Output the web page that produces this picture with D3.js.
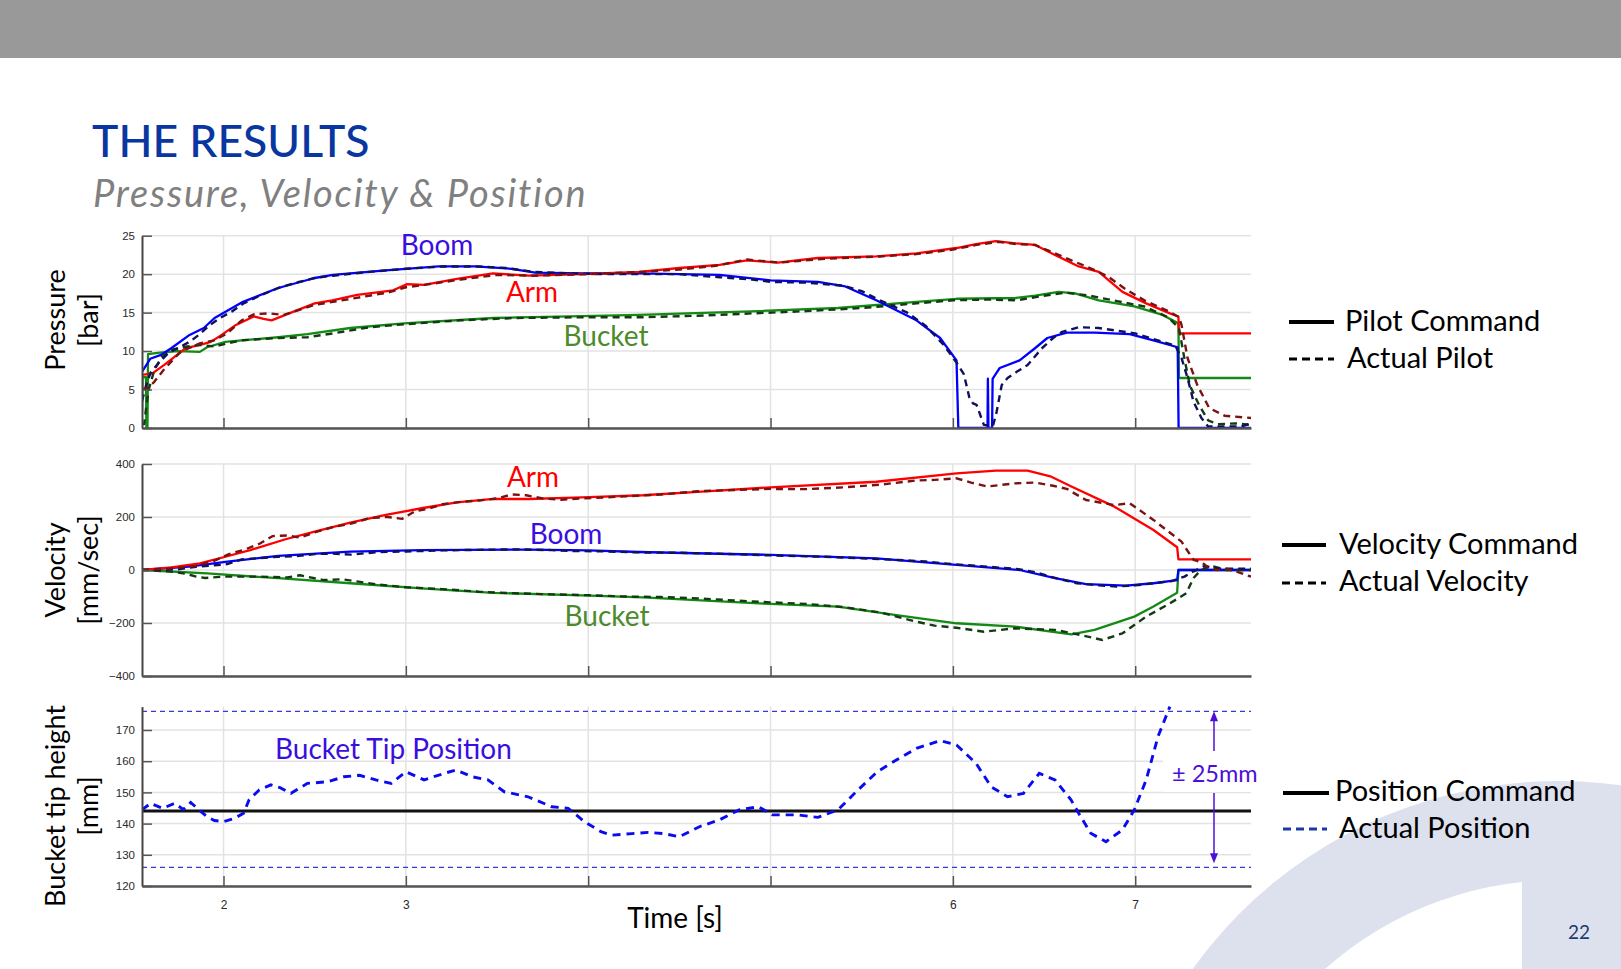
<!DOCTYPE html>
<html><head><meta charset="utf-8">
<script src="https://cdn.jsdelivr.net/npm/d3@7"></script>
<style>body{margin:0;background:#fff;overflow:hidden}svg{display:block}</style>
</head><body>
<svg id="c" width="1621" height="969"></svg>
<script>
// ---------------- DATA ----------------
const timeDomain = [1.553, 7.635];
const timeTicks = [2, 3, 4, 5, 6, 7];
const timeTickLabels = ["2", "3", "", "", "6", "7"];
const pressureTicks = [0, 5, 10, 15, 20, 25];
const velocityTicks = [-400, -200, 0, 200, 400];
const positionTicks = [120, 130, 140, 150, 160, 170];
const positionCommand = 144;
const positionBand = [126, 176];

const pressureBoomCmd = [[1.553,7.3],[1.598,9.0],[1.657,9.5],[1.715,10.4],[1.814,12.1],[1.892,13.0],[1.951,14.3],[2.107,16.4],[2.30,18.2],[2.50,19.5],[2.60,19.9],[2.89,20.5],[3.18,21.0],[3.38,21.0],[3.58,20.7],[3.71,20.2],[3.97,20.1],[4.28,20.1],[4.72,19.9],[5.0,19.2],[5.26,19.0],[5.41,18.4],[5.58,16.6],[5.80,14.0],[5.93,11.7],[6.02,8.8],[6.03,0],[6.19,0],[6.192,6.4],[6.195,0],[6.215,0],[6.218,6.4],[6.24,7.2],[6.257,7.8],[6.366,8.8],[6.452,10.4],[6.518,11.7],[6.625,12.4],[6.777,12.4],[6.97,12.2],[7.10,11.4],[7.233,10.5],[7.238,0],[7.635,0]];
const pressureBoomAct = [[1.553,3.5],[1.575,5.5],[1.60,7.2],[1.65,8.6],[1.70,9.8],[1.76,10.5],[1.82,11.3],[1.87,12.2],[1.92,13.3],[1.98,14.3],[2.05,15.2],[2.11,16.2],[2.2,17.2],[2.3,18.2],[2.4,18.9],[2.5,19.5],[2.6,19.8],[2.8,20.3],[3.0,20.7],[3.2,21.0],[3.4,21.0],[3.55,20.8],[3.7,20.3],[3.9,20.1],[4.1,20.0],[4.3,20.0],[4.5,20.0],[4.72,19.6],[4.9,19.3],[5.0,19.0],[5.2,18.9],[5.4,18.5],[5.5,17.8],[5.6,16.6],[5.75,15.0],[5.85,13.3],[5.95,10.8],[6.02,8.5],[6.06,7.0],[6.09,4.0],[6.11,3.2],[6.13,3.0],[6.17,0.4],[6.22,0.3],[6.24,2.1],[6.268,5.6],[6.30,6.5],[6.35,7.3],[6.41,8.2],[6.49,10.4],[6.55,11.7],[6.60,12.5],[6.69,13.1],[6.8,13.0],[6.886,12.7],[7.0,12.3],[7.08,11.7],[7.15,11.2],[7.22,10.7],[7.254,9.1],[7.287,6.5],[7.32,3.4],[7.363,1.3],[7.40,0.2],[7.50,0.2],[7.58,0.2],[7.635,0.6]];
const pressureArmCmd = [[1.553,6.9],[1.61,7.1],[1.675,8.2],[1.735,9.3],[1.794,10.4],[1.872,10.8],[1.93,11.2],[1.99,12.1],[2.068,13.4],[2.166,14.5],[2.22,14.2],[2.264,14.0],[2.36,14.9],[2.50,16.2],[2.596,16.6],[2.733,17.3],[2.93,17.9],[3.007,18.7],[3.1,18.6],[3.28,19.4],[3.478,20.1],[3.674,19.8],[3.967,20.0],[4.28,20.3],[4.50,20.8],[4.72,21.2],[4.87,21.8],[5.04,21.5],[5.26,22.1],[5.58,22.3],[5.80,22.7],[6.02,23.4],[6.127,23.9],[6.236,24.3],[6.344,24.0],[6.452,23.8],[6.56,22.5],[6.69,21.0],[6.80,20.3],[6.93,17.7],[7.06,16.2],[7.19,14.9],[7.237,14.5],[7.24,12.3],[7.635,12.3]];
const pressureArmAct = [[1.553,5.0],[1.59,5.3],[1.62,6.0],[1.67,7.5],[1.72,8.8],[1.76,9.8],[1.80,10.3],[1.87,11.0],[1.95,11.4],[2.02,12.3],[2.10,14.0],[2.17,14.8],[2.25,14.9],[2.33,14.7],[2.42,15.4],[2.50,16.0],[2.60,16.4],[2.75,17.0],[2.90,17.6],[3.0,18.3],[3.1,18.6],[3.3,19.3],[3.5,19.9],[3.7,19.8],[4.0,20.0],[4.3,20.3],[4.5,20.6],[4.7,21.1],[4.87,21.9],[5.05,21.5],[5.3,22.0],[5.6,22.3],[5.8,22.6],[6.0,23.2],[6.13,23.8],[6.25,24.2],[6.35,23.9],[6.45,23.8],[6.56,22.7],[6.68,21.5],[6.78,20.5],[6.85,19.7],[6.95,18.0],[7.05,16.6],[7.18,15.2],[7.24,14.4],[7.254,13.4],[7.287,9.1],[7.34,5.6],[7.406,2.6],[7.49,1.6],[7.635,1.3]];
const pressureBucketCmd = [[1.553,2.0],[1.556,6.6],[1.575,6.6],[1.577,0],[1.583,0],[1.586,9.6],[1.65,9.8],[1.75,10.0],[1.87,9.9],[1.91,10.5],[2.01,11.2],[2.30,11.8],[2.46,12.2],[2.695,13.0],[2.99,13.6],[3.48,14.3],[3.9,14.5],[4.28,14.7],[4.935,15.2],[5.37,15.6],[5.80,16.4],[6.02,16.8],[6.344,16.9],[6.452,17.2],[6.58,17.7],[6.67,17.5],[6.80,16.6],[6.995,15.8],[7.15,14.7],[7.237,13.6],[7.24,6.5],[7.635,6.5]];
const pressureBucketAct = [[1.553,0.5],[1.565,0.5],[1.575,2.5],[1.59,5.0],[1.62,7.5],[1.66,9.2],[1.72,10.2],[1.8,10.6],[1.87,10.8],[1.95,10.6],[2.02,11.0],[2.1,11.4],[2.3,11.7],[2.46,11.8],[2.6,12.3],[2.8,13.1],[3.0,13.5],[3.3,14.0],[3.6,14.3],[4.0,14.4],[4.3,14.4],[4.6,14.6],[4.9,14.9],[5.2,15.2],[5.5,15.6],[5.8,16.2],[6.0,16.6],[6.2,16.7],[6.35,16.6],[6.5,17.2],[6.62,17.6],[6.75,17.2],[6.9,16.5],[7.05,15.8],[7.18,14.4],[7.24,13.0],[7.27,9.0],[7.30,5.5],[7.35,3.0],[7.40,1.0],[7.45,0.5],[7.55,0.6],[7.635,0.4]];

const velocityArmCmd = [[1.553,0],[1.715,10],[1.87,25],[2.01,50],[2.146,75],[2.34,116],[2.50,145],[2.695,179],[2.89,208],[3.086,233],[3.28,255],[3.48,268],[3.674,268],[3.967,274],[4.3,282],[4.6,295],[5.0,312],[5.58,333],[6.02,365],[6.236,375],[6.41,375],[6.54,352],[6.65,315],[6.886,239],[7.10,151],[7.23,86],[7.237,40],[7.635,40]];
const velocityArmAct = [[1.553,0],[1.7,5],[1.85,15],[1.95,35],[2.03,60],[2.12,78],[2.2,100],[2.27,128],[2.35,130],[2.42,122],[2.5,142],[2.6,162],[2.7,175],[2.8,196],[2.9,200],[2.98,193],[3.05,222],[3.12,230],[3.2,248],[3.3,257],[3.4,262],[3.5,270],[3.58,285],[3.66,282],[3.75,270],[3.85,265],[3.95,270],[4.05,272],[4.2,278],[4.4,285],[4.6,297],[4.8,302],[5.0,306],[5.2,305],[5.4,312],[5.6,322],[5.8,338],[5.9,340],[6.02,346],[6.1,330],[6.19,315],[6.34,327],[6.45,330],[6.55,318],[6.625,306],[6.73,264],[6.886,245],[6.97,252],[7.10,189],[7.254,107],[7.32,38],[7.363,30],[7.40,10],[7.45,0],[7.5,5],[7.55,-5],[7.635,-25]];
const velocityBoomCmd = [[1.553,0],[1.81,13],[2.01,31],[2.30,53],[2.695,69],[3.086,75],[3.674,77],[4.0,74],[4.28,68],[5.0,57],[5.58,44],[6.02,19],[6.366,0],[6.56,-31],[6.73,-53],[6.95,-59],[7.10,-50],[7.23,-38],[7.237,0],[7.635,0]];
const velocityBoomAct = [[1.553,0],[1.75,3],[1.85,12],[1.95,18],[2.02,22],[2.1,40],[2.2,45],[2.3,50],[2.4,52],[2.5,60],[2.6,62],[2.7,58],[2.85,68],[3.0,70],[3.2,74],[3.4,76],[3.6,78],[3.8,75],[3.9,72],[4.1,70],[4.3,66],[4.5,65],[4.8,60],[5.0,55],[5.3,50],[5.5,44],[5.7,38],[5.85,32],[6.0,22],[6.2,12],[6.35,4],[6.45,-8],[6.55,-28],[6.68,-50],[6.8,-58],[6.9,-62],[7.0,-58],[7.1,-50],[7.2,-42],[7.27,-25],[7.32,-5],[7.38,15],[7.45,5],[7.55,5],[7.635,5]];
const velocityBucketCmd = [[1.553,0],[1.91,-13],[2.30,-31],[2.695,-50],[3.086,-69],[3.48,-86],[3.967,-96],[4.3,-103],[5.0,-128],[5.37,-138],[5.69,-170],[6.02,-201],[6.344,-214],[6.65,-243],[6.777,-226],[6.995,-176],[7.10,-138],[7.23,-86],[7.237,0],[7.635,0]];
const velocityBucketAct = [[1.553,0],[1.7,-5],[1.8,-15],[1.85,-25],[1.9,-30],[2.0,-25],[2.1,-25],[2.2,-25],[2.35,-28],[2.42,-20],[2.55,-38],[2.65,-35],[2.75,-45],[2.85,-55],[3.0,-65],[3.2,-72],[3.4,-82],[3.6,-88],[3.8,-92],[4.0,-95],[4.2,-100],[4.4,-102],[4.6,-107],[4.8,-115],[5.0,-122],[5.2,-128],[5.4,-140],[5.6,-160],[5.8,-195],[5.9,-210],[6.02,-218],[6.17,-233],[6.34,-220],[6.56,-226],[6.7,-245],[6.82,-264],[6.93,-239],[7.06,-176],[7.19,-126],[7.28,-88],[7.32,-30],[7.36,0],[7.42,15],[7.5,0],[7.635,0]];

const positionActual = [[1.553,144.4],[1.60,146.5],[1.667,144.9],[1.733,146.5],[1.78,144.5],[1.82,146.8],[1.865,144.4],[1.91,142.2],[1.95,141.0],[2.0,140.6],[2.06,141.7],[2.11,143.3],[2.14,147.6],[2.196,150.8],[2.26,152.4],[2.31,151.5],[2.37,149.7],[2.46,152.9],[2.57,153.4],[2.66,155.0],[2.746,155.5],[2.835,154.0],[2.92,152.9],[3.0,156.6],[3.10,154.0],[3.21,156.1],[3.275,157.2],[3.364,155.0],[3.45,154.0],[3.54,150.2],[3.67,148.6],[3.80,145.4],[3.89,144.9],[3.98,140.6],[4.07,137.4],[4.13,136.3],[4.24,136.8],[4.33,137.2],[4.414,136.8],[4.50,135.8],[4.61,139.0],[4.72,141.2],[4.827,144.4],[4.935,145.4],[5.01,142.8],[5.15,142.8],[5.26,142.0],[5.37,144.4],[5.48,150.8],[5.585,156.6],[5.69,160.4],[5.80,164.1],[5.93,166.6],[6.02,165.2],[6.127,159.3],[6.21,151.8],[6.30,148.6],[6.387,149.7],[6.474,156.1],[6.56,154.0],[6.648,147.6],[6.69,143.3],[6.756,136.9],[6.84,134.2],[6.93,138.0],[6.995,144.4],[7.06,154.0],[7.125,167.9],[7.18,176.0],[7.19,177.5]];

// ---------------- DRAW ----------------
const svg = d3.select("#c");
const FONT = "Lato, 'Open Sans', sans-serif";

// background decoration
const defs = svg.append("defs");
defs.append("clipPath").attr("id","innerClip").append("rect").attr("x",0).attr("y",0).attr("width",1522).attr("height",969);
svg.append("circle").attr("cx",1559).attr("cy",1232).attr("r",451).attr("fill","#dde1ee");
svg.append("circle").attr("cx",1559).attr("cy",1232).attr("r",352).attr("fill","#ffffff").attr("clip-path","url(#innerClip)");

// header
svg.append("rect").attr("x",0).attr("y",0).attr("width",1621).attr("height",58).attr("fill","#999999");
svg.append("text").attr("x",92).attr("y",157).attr("font-family",FONT).attr("font-size",44.5)
  .attr("fill","#0a36a0").attr("font-weight",500).text("THE RESULTS");
svg.append("text").attr("x",93).attr("y",207).attr("font-family",FONT).attr("font-size",38)
  .attr("font-style","italic").attr("letter-spacing",1.8).attr("fill","#808080").text("Pressure, Velocity & Position");

const x = d3.scaleLinear().domain(timeDomain).range([142, 1251]);
const line = (y) => d3.line().x(d => x(d[0])).y(d => y(d[1]));

function panel(id, domain, range, ticks, showLabels) {
  const y = d3.scaleLinear().domain(domain).range(range);
  const g = svg.append("g");
  const top = range[1], bot = range[0];
  g.append("g").selectAll("line").data(ticks).join("line")
    .attr("x1", 142).attr("x2", 1251).attr("y1", d => y(d)).attr("y2", d => y(d))
    .attr("stroke", "#e3e3e3").attr("stroke-width", 1.5);
  g.append("g").selectAll("line").data(timeTicks).join("line")
    .attr("x1", d => x(d)).attr("x2", d => x(d)).attr("y1", top).attr("y2", bot)
    .attr("stroke", "#e3e3e3").attr("stroke-width", 1.5);
  defs.append("clipPath").attr("id", "clip" + id).append("rect")
    .attr("x", 142).attr("y", top - 3).attr("width", 1109).attr("height", bot - top + 3);
  const plot = g.append("g").attr("clip-path", "url(#clip" + id + ")");
  const ay = d3.axisLeft(y).tickValues(ticks).tickSizeInner(-10).tickSizeOuter(0).tickPadding(7);
  const yg = g.append("g").attr("transform", "translate(142,0)").call(ay);
  yg.select(".domain").attr("stroke", "#444").attr("stroke-width", 2);
  yg.selectAll(".tick line").attr("stroke", "#555").attr("stroke-width", 1.5);
  yg.selectAll("text").attr("font-family", "'Liberation Sans', Arial, sans-serif").attr("font-size", 11.5).attr("fill", "#2a2a2a");
  const ax = d3.axisBottom(x).tickValues(timeTicks).tickSizeInner(-10).tickSizeOuter(0).tickPadding(14)
    .tickFormat((d, i) => showLabels ? timeTickLabels[i] : "");
  const xg = g.append("g").attr("transform", `translate(0,${bot})`).call(ax);
  xg.select(".domain").attr("stroke", "#555").attr("stroke-width", 2.5);
  xg.selectAll(".tick line").attr("stroke", "#555").attr("stroke-width", 1.5);
  xg.selectAll("text").attr("font-family", "'Liberation Sans', Arial, sans-serif").attr("font-size", 12).attr("fill", "#2a2a2a");
  return { y, g, plot };
}

function drawSeries(p, data, color, dashed) {
  p.plot.append("path").datum(data).attr("d", line(p.y)).attr("fill", "none")
    .attr("stroke", color).attr("stroke-width", dashed ? 2.4 : 2.3)
    .attr("stroke-dasharray", dashed ? "7,5" : null).attr("stroke-linejoin", "round");
}

const C = { boomCmd: "#0000ff", boomAct: "#10105e", armCmd: "#ff0000", armAct: "#7a1212", bucketCmd: "#138a13", bucketAct: "#143a14" };
const L = { boom: "#3a0ee0", arm: "#ff0000", bucket: "#4b8b2b" };

function label(txt, cx, by, color, size) {
  svg.append("text").attr("x", cx).attr("y", by).attr("text-anchor", "middle")
    .attr("font-family", FONT).attr("font-size", size || 28).attr("fill", color).text(txt);
}
function ytitle(lines, cy) {
  [56, 89].forEach((xx, i) => {
    svg.append("text").attr("transform", `translate(${xx},${cy}) rotate(-90)`).attr("text-anchor", "middle")
      .attr("dy", "0.35em").attr("font-family", FONT).attr("font-size", 27).attr("fill", "#000").text(lines[i]);
  });
}

// Pressure
const pP = panel("p", [0, 25], [428, 235.7], pressureTicks, false);
drawSeries(pP, pressureBucketCmd, C.bucketCmd);
drawSeries(pP, pressureBoomCmd, C.boomCmd);
drawSeries(pP, pressureArmCmd, C.armCmd);
drawSeries(pP, pressureBucketAct, C.bucketAct, true);
drawSeries(pP, pressureBoomAct, C.boomAct, true);
drawSeries(pP, pressureArmAct, C.armAct, true);
label("Boom", 437, 255, L.boom);
label("Arm", 532, 302, L.arm);
label("Bucket", 606, 346, L.bucket);
ytitle(["Pressure", "[bar]"], 320);

// Velocity
const pV = panel("v", [-400, 400], [676, 464], velocityTicks, false);
drawSeries(pV, velocityBucketCmd, C.bucketCmd);
drawSeries(pV, velocityBoomCmd, C.boomCmd);
drawSeries(pV, velocityArmCmd, C.armCmd);
drawSeries(pV, velocityBucketAct, C.bucketAct, true);
drawSeries(pV, velocityBoomAct, C.boomAct, true);
drawSeries(pV, velocityArmAct, C.armAct, true);
label("Arm", 533, 487, L.arm);
label("Boom", 566, 544, L.boom);
label("Bucket", 607, 626, L.bucket);
ytitle(["Velocity", "[mm/sec]"], 570);

// Position
const pS = panel("s", [120, 177.5], [886, 706.6], positionTicks, true);
pS.plot.append("g").selectAll("line").data(positionBand).join("line")
  .attr("x1", 142).attr("x2", 1251).attr("y1", d => pS.y(d)).attr("y2", d => pS.y(d))
  .attr("stroke", "#3a3ad0").attr("stroke-width", 1.3).attr("stroke-dasharray", "5,4");
pS.plot.append("line").attr("x1", 142).attr("x2", 1251).attr("y1", pS.y(positionCommand)).attr("y2", pS.y(positionCommand))
  .attr("stroke", "#111").attr("stroke-width", 3);
pS.plot.append("path").datum(positionActual).attr("d", line(pS.y)).attr("fill", "none")
  .attr("stroke", "#0b0bf0").attr("stroke-width", 2.9).attr("stroke-dasharray", "8,6");
svg.append("text").attr("x", 275).attr("y", 759).attr("font-family", FONT).attr("font-size", 28)
  .attr("fill", L.boom).text("Bucket Tip Position");
ytitle(["Bucket tip height", "[mm]"], 806);

// ±25mm annotation
const ax0 = 1214, aTop = pS.y(positionBand[1]), aBot = pS.y(positionBand[0]);
svg.append("rect").attr("x", 1163).attr("y", 752).attr("width", 100).attr("height", 40).attr("fill", "#fff");
const ann = "#4b10d8";
svg.append("line").attr("x1", ax0).attr("x2", ax0).attr("y1", aTop + 8).attr("y2", 751).attr("stroke", ann).attr("stroke-width", 1.5);
svg.append("line").attr("x1", ax0).attr("x2", ax0).attr("y1", 793).attr("y2", aBot - 12).attr("stroke", ann).attr("stroke-width", 1.5);
svg.append("path").attr("d", `M${ax0},${aTop} L${ax0-4},${aTop+10} L${ax0+4},${aTop+10} Z`).attr("fill", ann);
svg.append("path").attr("d", `M${ax0},${aBot-4} L${ax0-4},${aBot-14} L${ax0+4},${aBot-14} Z`).attr("fill", ann);
svg.append("text").attr("x", 1172).attr("y", 782).attr("font-family", FONT).attr("font-size", 23.5)
  .attr("fill", ann).text("± 25mm");

// x title
svg.append("text").attr("x", 675).attr("y", 928).attr("text-anchor", "middle").attr("font-family", FONT)
  .attr("font-size", 28).attr("fill", "#000").text("Time [s]");

// legends
function legend(x1, x2, ly, tx, ty, txt, color, dashed, w) {
  svg.append("line").attr("x1", x1).attr("x2", x2).attr("y1", ly).attr("y2", ly)
    .attr("stroke", color).attr("stroke-width", w).attr("stroke-dasharray", dashed ? "8,5" : null);
  svg.append("text").attr("x", tx).attr("y", ty).attr("font-family", FONT).attr("font-size", 29)
    .attr("fill", "#000").text(txt);
}
legend(1289, 1334, 322, 1345, 331, "Pilot Command", "#000", false, 4);
legend(1289, 1334, 359, 1347, 368, "Actual Pilot", "#000", true, 3);
legend(1282, 1326, 545, 1339, 554, "Velocity Command", "#000", false, 4);
legend(1282, 1326, 583, 1339, 591, "Actual Velocity", "#000", true, 3);
legend(1283, 1329, 793, 1335, 801, "Position Command", "#000", false, 4);
legend(1283, 1327, 829, 1339, 838, "Actual Position", "#1a3aa8", true, 3);

// page number
svg.append("text").attr("x", 1579).attr("y", 939).attr("text-anchor", "middle").attr("font-family", FONT)
  .attr("font-size", 19).attr("fill", "#1f3a6e").text("22");
</script>
</body></html>
